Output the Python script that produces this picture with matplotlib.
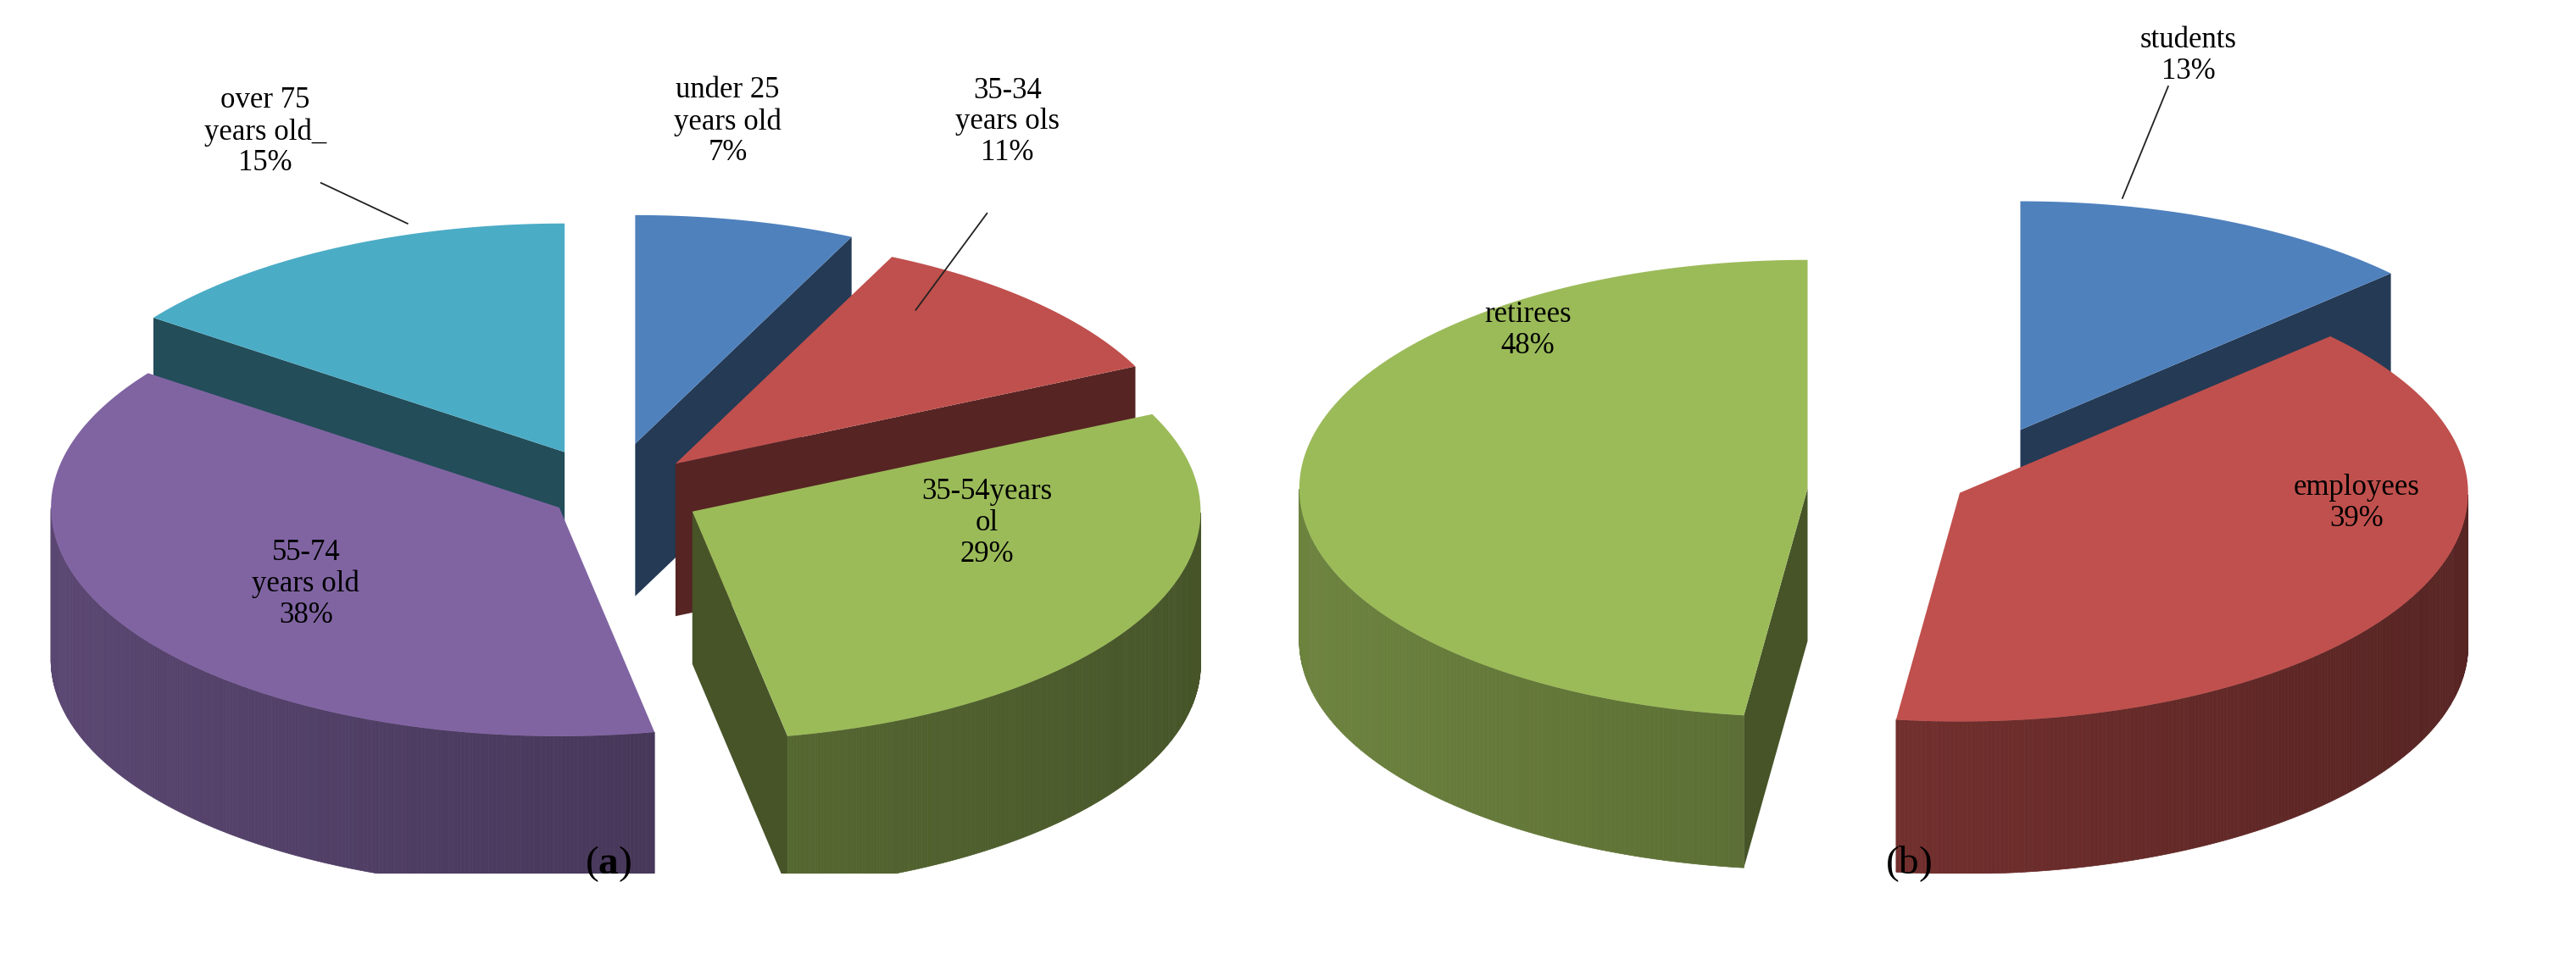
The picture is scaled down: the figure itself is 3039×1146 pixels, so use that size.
import numpy as np
import matplotlib
matplotlib.use("Agg")
import matplotlib.pyplot as plt
from matplotlib.patches import Polygon
import matplotlib.colors as mc

plt.rcParams['font.family'] = ['Liberation Serif', 'DejaVu Serif']
plt.rcParams['mathtext.fontset'] = 'custom'
plt.rcParams['mathtext.bf'] = 'Liberation Serif:bold'
plt.rcParams['mathtext.rm'] = 'Liberation Serif'

age_labels = ["under 25\nyears old\n7%", "35-34\nyears ols\n11%", "35-54years\nol\n29%",
              "55-74\nyears old\n38%", "over 75\nyears old_\n15%"]
age_values = [7, 11, 29, 38, 15]
age_colors = ["#4F81BD", "#C0504D", "#9BBB59", "#8064A2", "#4BACC6"]
age_explode = [0.22, 0.18, 0.18, 0.12, 0.2]

occ_labels = ["students\n13%", "employees\n39%", "retirees\n48%"]
occ_values = [13, 39, 48]
occ_colors = ["#4F81BD", "#C0504D", "#9BBB59"]
occ_explode = [0.3, 0.0, 0.3]

K = 0.45   # vertical squash
D = 0.30   # depth

def dark(c, f):
    r, g, b = mc.to_rgb(c)
    return (r * f, g * f, b * f)

def pt(cx, cy, t, r=1.0):
    return (cx + r * np.cos(t), cy + K * r * np.sin(t))

def pie3d(ax, values, colors, explode, labels, label_pos):
    vals = np.array(values, float)
    cum = np.concatenate([[0], np.cumsum(vals) / vals.sum()])
    wedges = []
    for i in range(len(vals)):
        t1 = np.deg2rad(90 - 360 * cum[i + 1])
        t2 = np.deg2rad(90 - 360 * cum[i])
        tm = (t1 + t2) / 2
        cx, cy = explode[i] * np.cos(tm), K * explode[i] * np.sin(tm)
        wedges.append((i, t1, t2, tm, cx, cy))
    for i, t1, t2, tm, cx, cy in sorted(wedges, key=lambda w: -(np.sin(w[3]) + w[5])):
        col = colors[i]
        for t, n in ((t1, t1 - np.pi / 2), (t2, t2 + np.pi / 2)):
            if np.sin(n) < 0:
                p0 = (cx, cy); p1 = pt(cx, cy, t)
                poly = [p0, p1, (p1[0], p1[1] - D), (p0[0], p0[1] - D)]
                ax.add_patch(Polygon(poly, closed=True, fc=dark(col, 0.45), ec='none', zorder=1))
        ts = np.linspace(t1, t2, 300)
        front = np.sin(ts) < 0
        if front.any():
            idx = np.where(front)[0]
            segs = np.split(idx, np.where(np.diff(idx) > 1)[0] + 1)
            for s in segs:
                tt = ts[s]
                for j in range(len(tt) - 1):
                    a, b = tt[j], tt[j + 1]
                    shade = 0.45 + 0.25 * (1 - np.cos(a)) / 2
                    pa, pb = pt(cx, cy, a), pt(cx, cy, b)
                    ax.add_patch(Polygon([pa, pb, (pb[0], pb[1] - D), (pa[0], pa[1] - D)],
                                         closed=True, fc=dark(col, shade), ec=dark(col, shade),
                                         lw=0.5, zorder=1))
        arc = [pt(cx, cy, t) for t in np.linspace(t1, t2, 200)]
        ax.add_patch(Polygon([(cx, cy)] + arc, closed=True, fc=col, ec='none', zorder=1))
        lx, ly, lead = label_pos[i]
        ax.text(lx, ly, labels[i], ha='center', va='center', fontsize=25, zorder=5,
                linespacing=1.15)
        if lead is not None:
            ax.plot([lead[0], lead[2]], [lead[1], lead[3]], color='#222222', lw=1.3, zorder=5)
    ax.set_aspect('equal')
    ax.axis('off')

fig = plt.figure(figsize=(30.39, 11.46), dpi=100)

ax1 = fig.add_axes([0.0, 0.1, 0.49, 0.9])
age_pos = [(0.23, 0.73, None), (0.78, 0.73, (0.74, 0.55, 0.6, 0.36)),
           (0.74, -0.06, None), (-0.6, -0.18, None), (-0.68, 0.71, (-0.57, 0.61, -0.40, 0.53))]
pie3d(ax1, age_values, age_colors, age_explode, age_labels, age_pos)
ax1.set_xlim(-1.2, 1.28); ax1.set_ylim(-0.75, 0.97)

ax2 = fig.add_axes([0.5, 0.1, 0.49, 0.9])
occ_pos = [(0.45, 0.86, (0.41, 0.8, 0.32, 0.58)), (0.78, -0.02, None), (-0.85, 0.32, None)]
pie3d(ax2, occ_values, occ_colors, occ_explode, occ_labels, occ_pos)
ax2.set_xlim(-1.32, 1.16); ax2.set_ylim(-0.75, 0.97)

fig.text(0.236, 0.11, r"($\mathbf{a}$)", ha='center', va='center', fontsize=34)
fig.text(0.741, 0.11, r"($\mathrm{b}$)", ha='center', va='center', fontsize=34)

fig.savefig("out.png", dpi=100)
